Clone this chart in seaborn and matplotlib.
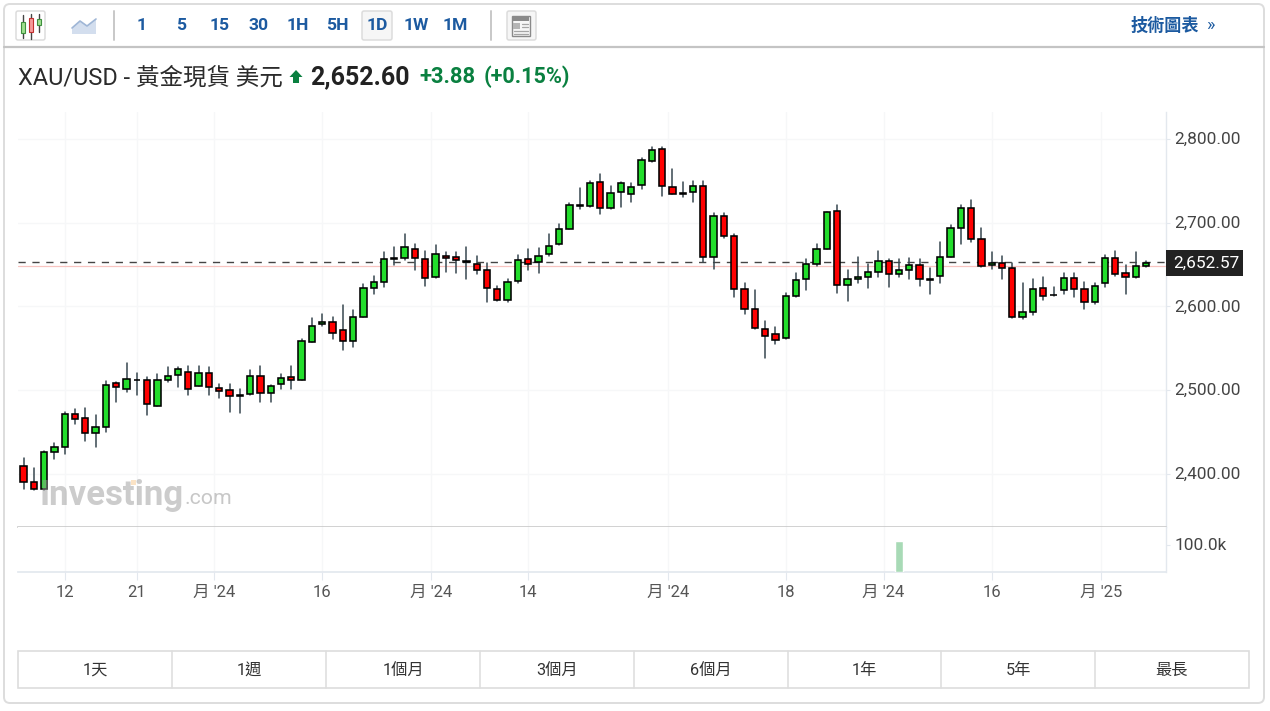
import matplotlib
matplotlib.use('Agg')
import numpy as np
import pandas as pd
import seaborn as sns
import matplotlib.pyplot as plt
from matplotlib.patches import FancyBboxPatch, Rectangle, Polygon
from matplotlib.transforms import ScaledTranslation

# Daily candles
opens = [2409.9, 2390.0, 2382.5, 2426.6, 2431.8, 2471.6, 2466.4, 2448.5, 2456.5, 2508.2,
         2501.9, 2511.8, 2511.8, 2481.6, 2511.8, 2518.6, 2521.8, 2505.0, 2520.2, 2502.2,
         2500.3, 2493.9, 2495.1, 2517.0, 2496.7, 2507.0, 2515.4, 2512.2, 2557.2, 2578.7,
         2581.9, 2572.3, 2558.4, 2587.1, 2622.1, 2628.9, 2657.1, 2657.5, 2669.1, 2657.1,
         2635.6, 2660.7, 2659.1, 2653.9, 2650.7, 2644.0, 2620.5, 2607.4, 2630.8, 2657.1,
         2652.7, 2662.3, 2674.2, 2692.5, 2719.6, 2719.6, 2749.0, 2717.2, 2736.3, 2733.9,
         2744.7, 2774.1, 2788.1, 2743.1, 2735.9, 2736.3, 2744.3, 2658.7, 2707.7, 2684.2,
         2620.5, 2597.4, 2573.5, 2567.2, 2562.0, 2612.1, 2632.4, 2650.3, 2669.1, 2714.4,
         2625.3, 2632.4, 2635.6, 2640.8, 2653.9, 2639.2, 2644.0, 2649.2, 2632.0, 2636.0,
         2659.1, 2694.1, 2717.6, 2681.0, 2649.2, 2652.3, 2645.6, 2587.1, 2593.8, 2622.5,
         2613.3, 2619.3, 2633.6, 2620.5, 2605.4, 2627.7, 2657.5, 2640.4, 2635.6, 2648.8]
closes = [2390.0, 2381.7, 2426.6, 2431.8, 2472.0, 2465.2, 2448.5, 2456.5, 2506.6, 2503.4,
          2513.8, 2512.6, 2483.1, 2511.8, 2517.0, 2525.3, 2501.9, 2520.2, 2503.4, 2498.7,
          2493.5, 2493.1, 2516.6, 2496.7, 2505.4, 2515.0, 2511.8, 2558.8, 2577.1, 2581.9,
          2568.8, 2558.4, 2587.1, 2622.5, 2628.9, 2657.1, 2657.9, 2670.6, 2657.5, 2634.0,
          2662.3, 2657.5, 2655.9, 2652.7, 2644.0, 2622.5, 2607.4, 2628.9, 2655.9, 2650.7,
          2660.7, 2672.6, 2692.5, 2720.8, 2721.2, 2747.9, 2717.2, 2735.9, 2747.9, 2743.1,
          2774.5, 2786.5, 2744.3, 2734.3, 2734.3, 2744.3, 2658.7, 2707.7, 2683.8, 2620.9,
          2597.0, 2573.9, 2565.2, 2560.4, 2612.5, 2632.0, 2650.7, 2669.1, 2712.4, 2625.3,
          2632.4, 2635.6, 2640.8, 2653.9, 2638.8, 2644.0, 2649.2, 2632.4, 2632.8, 2659.1,
          2694.1, 2717.6, 2681.0, 2648.8, 2652.3, 2646.0, 2587.1, 2593.8, 2620.5, 2612.1,
          2614.1, 2634.0, 2620.9, 2605.8, 2624.1, 2657.5, 2639.2, 2635.6, 2648.8, 2652.3]
highs = [2418.7, 2406.7, 2427.8, 2436.6, 2473.6, 2477.2, 2478.8, 2470.4, 2510.6, 2510.2,
         2532.1, 2521.0, 2515.4, 2519.0, 2527.3, 2527.3, 2529.3, 2529.3, 2527.3, 2507.4,
         2507.4, 2501.1, 2524.1, 2529.3, 2506.2, 2519.0, 2529.3, 2560.8, 2585.9, 2591.0,
         2587.9, 2601.4, 2596.2, 2626.5, 2636.4, 2664.7, 2671.4, 2686.6, 2674.6, 2665.9,
         2673.0, 2664.7, 2664.7, 2671.4, 2659.9, 2652.3, 2624.5, 2632.4, 2661.1, 2668.3,
         2669.4, 2686.6, 2698.1, 2723.2, 2741.5, 2749.4, 2758.2, 2743.5, 2748.3, 2747.1,
         2776.9, 2790.0, 2790.0, 2763.8, 2748.3, 2749.4, 2749.4, 2711.2, 2711.2, 2686.2,
         2627.7, 2619.7, 2582.3, 2575.9, 2615.7, 2639.6, 2656.3, 2674.6, 2713.2, 2721.6,
         2643.2, 2659.5, 2650.7, 2665.9, 2656.3, 2656.3, 2657.9, 2656.3, 2646.4, 2676.6,
         2696.9, 2721.6, 2727.2, 2693.3, 2665.1, 2660.3, 2652.3, 2628.1, 2632.8, 2634.8,
         2623.3, 2639.6, 2639.6, 2629.6, 2627.7, 2661.1, 2666.3, 2649.5, 2665.1, 2654.7]
lows = [2382.0, 2380.9, 2380.9, 2417.5, 2424.2, 2459.7, 2439.8, 2432.6, 2450.5, 2486.3,
        2497.9, 2494.3, 2470.8, 2481.2, 2509.4, 2504.2, 2494.3, 2504.6, 2494.3, 2491.1,
        2474.4, 2472.8, 2494.7, 2486.3, 2486.3, 2501.1, 2501.1, 2511.8, 2557.2, 2576.7,
        2561.6, 2548.1, 2551.2, 2587.1, 2615.3, 2623.7, 2649.5, 2655.5, 2643.6, 2624.9,
        2633.6, 2641.6, 2640.4, 2633.2, 2638.4, 2605.0, 2607.0, 2605.0, 2628.5, 2643.6,
        2640.4, 2660.3, 2673.8, 2692.1, 2716.0, 2719.2, 2710.4, 2716.8, 2718.8, 2725.2,
        2740.7, 2772.1, 2732.3, 2733.9, 2730.3, 2725.2, 2653.1, 2645.2, 2682.2, 2611.7,
        2591.4, 2573.5, 2538.1, 2554.8, 2561.6, 2611.7, 2620.1, 2648.8, 2668.7, 2616.5,
        2607.0, 2628.5, 2621.7, 2635.2, 2623.7, 2635.6, 2633.2, 2624.9, 2615.3, 2628.5,
        2658.7, 2675.0, 2676.6, 2646.8, 2645.2, 2633.2, 2586.7, 2584.7, 2590.2, 2608.2,
        2612.1, 2615.3, 2611.7, 2596.6, 2603.4, 2623.7, 2636.8, 2615.3, 2633.6, 2646.8]

price_ticks = [2400, 2500, 2600, 2700, 2800]
price_labels = ['2,400.00', '2,500.00', '2,600.00', '2,700.00', '2,800.00']
date_ticks = [4, 11, 18.5, 29, 39.6, 49, 62.6, 74, 83.5, 94, 104.6]
date_labels = ['12', '21', "月 '24", '16', "月 '24", '14', "月 '24", '18', "月 '24", '16', "月 '25"]
volume_index = [85]
volume_values = [115000]
last_price = 2652.57
prev_close = 2648.72
intervals = ['1', '5', '15', '30', '1H', '5H', '1D', '1W', '1M']
ranges = ['1天', '1週', '1個月', '3個月', '6個月', '1年', '5年', '最長']

sns.set_theme(style='white')
FONT = ['Roboto', 'Noto Sans CJK TC', 'DejaVu Sans']
plt.rcParams['font.family'] = FONT

W, H = 1270, 711
fig = plt.figure(figsize=(W / 100, H / 100), dpi=100, facecolor='white')


def pane(left, top, right, bottom):
    # axes placed by pixel box
    return fig.add_axes([left / W, 1 - bottom / H, (right - left) / W, (bottom - top) / H])


ax = pane(18, 112, 1166, 527)
vol = pane(18, 527, 1166, 572)

df = pd.DataFrame({'day': range(len(opens)), 'open': opens, 'close': closes,
                   'high': highs, 'low': lows})
df['base'] = df[['open', 'close']].min(axis=1)
df['body'] = (df['close'] - df['open']).abs()

# Wicks, one short line per day
wicks = df.melt(id_vars='day', value_vars=['high', 'low'], value_name='price')
sns.lineplot(data=wicks, x='day', y='price', units='day', estimator=None, sort=True,
             color='#37474f', linewidth=1.1, ax=ax, zorder=2, legend=False)

# Bodies
for rising, colour in [(True, '#22dd2b'), (False, '#ff0000')]:
    part = df[(df['close'] >= df['open']) == rising]
    sns.barplot(x=part['day'], y=part['body'], bottom=part['base'].values, native_scale=True,
                color=colour, saturation=1, width=0.62, edgecolor='black', linewidth=1.15,
                errorbar=None, ax=ax, zorder=3)

ax.axhline(prev_close, color='#f8c4c0', linewidth=0.9, zorder=1)
ax.axhline(last_price, color='#444444', linewidth=1, dashes=(5.2, 4.8), zorder=1.5)

xlim = ((18 - 23.5) / 10.3, (1166 - 23.5) / 10.3)
ax.set_xlim(xlim)
ax.set_ylim(2336.7, 2832.2)

sns.barplot(x=volume_index, y=volume_values, native_scale=True, color='#a8dab6', saturation=1,
            width=0.7, errorbar=None, ax=vol, zorder=3)
vol.set_xlim(xlim)
vol.set_ylim(0, 166700)

tick_grey = '#e3e8ee'
for a in (ax, vol):
    a.set_xlabel('')
    a.set_ylabel('')
    a.set_xticks(date_ticks)
    a.grid(True, color='#f6f7f8', linewidth=1)
    a.set_axisbelow(True)
    a.yaxis.tick_right()
    for side in ('left', 'top'):
        a.spines[side].set_visible(False)
    a.spines['right'].set_color(tick_grey)
    a.spines['bottom'].set_color(tick_grey)
    a.spines['right'].set_linewidth(1)
ax.spines['bottom'].set_color('#c9c9c9')
ax.spines['bottom'].set_linewidth(1.2)
vol.grid(False, axis='y')

ax.set_yticks(price_ticks)
ax.set_yticklabels(price_labels)
ax.tick_params(axis='x', length=0, labelbottom=False)
ax.tick_params(axis='y', length=3, width=0.8, color=tick_grey, labelsize=12.4,
               labelcolor='#444444', pad=2.8, right=True)
vol.set_yticks([100000])
vol.set_yticklabels(['100.0k'])
vol.set_xticklabels(date_labels)
vol.tick_params(axis='y', length=3, width=0.8, color=tick_grey, labelsize=12.4,
                labelcolor='#444444', pad=2.8, right=True)
vol.tick_params(axis='x', length=5.5, width=0.8, color=tick_grey, labelsize=12,
                labelcolor='#555555', pad=4, bottom=True)

# y labels sit one pixel above their ticks
nudge = ScaledTranslation(0, 1 / 100, fig.dpi_scale_trans)
for label in ax.get_yticklabels() + vol.get_yticklabels():
    label.set_transform(label.get_transform() + nudge)

# Page furniture, drawn on a pixel-sized overlay
ui = fig.add_axes([0, 0, 1, 1], zorder=5)
ui.set_xlim(0, W)
ui.set_ylim(H, 0)
ui.axis('off')
ui.patch.set_alpha(0)

ui.add_patch(FancyBboxPatch((4, 4), 1260, 699, boxstyle='round,pad=0,rounding_size=6',
                            fc='none', ec='#dddddd', lw=1.4))
ui.plot([4, 1264], [47, 47], color='#c4c4c4', lw=1.6)
for x in (114, 491):
    ui.plot([x, x], [11, 40], color='#c8c8c8', lw=1.4)

# Toolbar buttons
for left, w, fill in [(16, 29, 'white'), (362, 30, '#f6f6f6'), (507, 29, '#f6f6f6')]:
    ui.add_patch(FancyBboxPatch((left, 11), w, 29, boxstyle='round,pad=0,rounding_size=2',
                                fc=fill, ec='#dcdcdc', lw=1.1))
for x, y0, y1, b0, b1, fc, ec in [(23, 15, 38, 22, 33, '#9fe08f', '#3f8f3f'),
                                  (31, 14, 39, 18, 32, '#f59a9a', '#c03030'),
                                  (39, 14, 32, 19, 25, '#9fe08f', '#3f8f3f')]:
    ui.plot([x, x], [y0, y1], color='#444444', lw=1)
    ui.add_patch(Rectangle((x - 2, b0), 4, b1 - b0, fc=fc, ec=ec, lw=0.8, zorder=3))
ui.add_patch(Polygon([(72, 34), (72, 28), (80, 21), (87, 26), (96, 19), (96, 34)],
                     fc='#d3deee', ec='none'))
ui.plot([72, 80, 87, 96], [28, 21, 26, 19], color='#9fb6d6', lw=1.2)
ui.add_patch(Rectangle((512, 16), 18, 20, fc='none', ec='#8a8a8a', lw=1))
ui.add_patch(Rectangle((513, 17), 16, 4, fc='#8a8a8a', ec='none'))
ui.add_patch(Rectangle((513, 23), 7, 6, fc='#b5b5b5', ec='none'))
for y in (24, 27, 31, 34):
    ui.plot([522 if y < 30 else 514, 528], [y, y], color='#a5a5a5', lw=0.9)

blue = '#1c5aa0'
for label, x in zip(intervals, [142, 181, 220, 259, 298, 337, 377, 416, 455]):
    ui.text(x, 26, label, color=blue, fontsize=12.6, fontweight='bold', ha='center', va='center')
ui.text(1164.5, 25, '技術圖表', color=blue, fontsize=12.3, fontweight='bold', ha='center', va='center')
ui.text(1210, 25, '»', color=blue, fontsize=13, ha='center', va='center')

# Quote line
ui.text(18, 78, 'XAU/USD - 黃金現貨 美元', color='#2b2b2b', fontsize=16.9, ha='left', va='center')
ui.add_patch(Polygon([(296, 70), (302.5, 77), (299, 77), (299, 83), (293, 83), (293, 77), (289.5, 77)],
                     fc='#0a8040', ec='none'))
ui.text(310, 77, '2,652.60', color='#222222', fontsize=18, fontweight='bold', ha='left', va='center')
ui.text(419, 77, '+3.88', color='#0a8040', fontsize=15.8, fontweight='bold', ha='left', va='center')
ui.text(484, 77, '(+0.15%)', color='#0a8040', fontsize=15.6, fontweight='bold', ha='left', va='center')

# Last price tag
ui.add_patch(Rectangle((1166, 250), 77, 26, fc='#222222', ec='none', zorder=6))
ui.text(1206.5, 263, '2,652.57', color='white', fontsize=12.4, ha='center', va='center', zorder=7)

# Watermark
ui.text(39, 495, 'Investing', color='#9a9a9a', alpha=0.5, fontsize=25, fontweight='bold',
        ha='left', va='center')
ui.text(185, 498, '.com', color='#b0b0b0', alpha=0.7, fontsize=15.3, ha='left', va='center')
ui.add_patch(Rectangle((131, 480), 5, 5, fc='#fbe3c5', ec='none'))

# Range selector
edges = [18, 172, 326, 480, 634, 788, 941, 1095, 1249]
ui.add_patch(Rectangle((18, 651), 1231, 37, fc='white', ec='#dddddd', lw=1.2))
for x in edges[1:-1]:
    ui.plot([x, x], [651, 688], color='#dddddd', lw=1.1)
for label, a, b in zip(ranges, edges[:-1], edges[1:]):
    ui.text((a + b) / 2, 670, label, color='#333333', fontsize=11.7, ha='center', va='center')

plt.savefig('out.png', dpi=100)
